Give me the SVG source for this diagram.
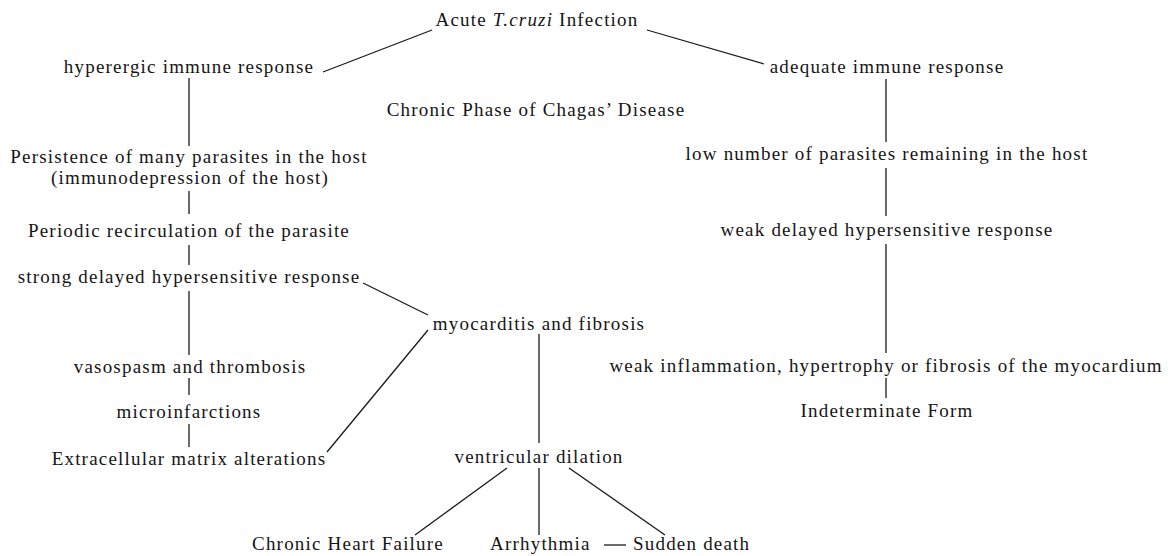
<svg xmlns="http://www.w3.org/2000/svg" width="1168" height="556" viewBox="0 0 1168 556">
<style>
  text { font-family: "Liberation Serif", "Times New Roman", serif; font-size: 19px; letter-spacing: 1.2px; fill: #151515; text-anchor: middle; }
  .s { text-anchor: start; }
  #connectors line { stroke: #1a1a1a; stroke-width: 1.3; fill: none; }
</style>
<rect width="1168" height="556" fill="#ffffff"/>
<g id="connectors">
  <line x1="323" y1="72" x2="432" y2="30"/>
  <line x1="647" y1="30" x2="764" y2="64"/>
  <line x1="189" y1="78" x2="189" y2="146"/>
  <line x1="189" y1="191" x2="189" y2="214"/>
  <line x1="189" y1="245" x2="189" y2="265"/>
  <line x1="189" y1="291" x2="189" y2="355"/>
  <line x1="189" y1="378" x2="189" y2="395"/>
  <line x1="189" y1="424" x2="189" y2="447"/>
  <line x1="363" y1="283" x2="428" y2="315"/>
  <line x1="428" y1="330" x2="327" y2="452"/>
  <line x1="539" y1="334" x2="539" y2="443"/>
  <line x1="507" y1="468" x2="415" y2="535"/>
  <line x1="539" y1="468" x2="539" y2="535"/>
  <line x1="569" y1="468" x2="665" y2="535"/>
  <line x1="604" y1="545" x2="626" y2="545"/>
  <line x1="886" y1="79" x2="886" y2="142"/>
  <line x1="886" y1="168" x2="886" y2="216"/>
  <line x1="886" y1="244" x2="886" y2="353"/>
  <line x1="886" y1="378" x2="886" y2="398"/>
</g>
<g id="acute"><text x="537" y="26">Acute <tspan font-style="italic">T.cruzi</tspan> Infection</text></g>
<g id="hyperergic"><text x="189" y="73">hyperergic immune response</text></g>
<g id="adequate"><text x="887" y="73">adequate immune response</text></g>
<g id="chronic-phase"><text x="536" y="116">Chronic Phase of Chagas’ Disease</text></g>
<g id="persistence"><text x="189" y="163">Persistence of many parasites in the host</text><text x="190" y="184">(immunodepression of the host)</text></g>
<g id="periodic"><text x="189" y="237">Periodic recirculation of the parasite</text></g>
<g id="strong-dth"><text x="189" y="283">strong delayed hypersensitive response</text></g>
<g id="vasospasm"><text x="190" y="373">vasospasm and thrombosis</text></g>
<g id="microinfarctions"><text x="189" y="418">microinfarctions</text></g>
<g id="ecm"><text x="189" y="465">Extracellular matrix alterations</text></g>
<g id="myocarditis"><text x="539" y="330">myocarditis and fibrosis</text></g>
<g id="ventricular"><text x="539" y="463">ventricular dilation</text></g>
<g id="chf"><text x="348" y="550">Chronic Heart Failure</text></g>
<g id="arrhythmia"><text class="s" x="490" y="550">Arrhythmia</text></g>
<g id="sudden-death"><text class="s" x="633" y="550">Sudden death</text></g>
<g id="low-number"><text x="887" y="160">low number of parasites remaining in the host</text></g>
<g id="weak-dth"><text x="887" y="236">weak delayed hypersensitive response</text></g>
<g id="weak-inflammation"><text x="886" y="372">weak inflammation, hypertrophy or fibrosis of the myocardium</text></g>
<g id="indeterminate"><text x="887" y="417">Indeterminate Form</text></g>
</svg>
